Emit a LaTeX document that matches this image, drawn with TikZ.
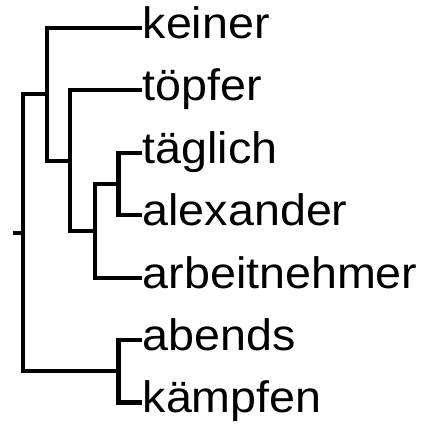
\documentclass[tikz,border=0pt]{standalone}
\usepackage{fontspec}
\setmainfont{Liberation Sans}
\usepackage{graphicx}
\usepackage{tikz}

% labels come out a touch wide
\newcommand{\leaflabel}[1]{\scalebox{1.06}[1]{#1}}

\begin{document}
\begin{tikzpicture}[x=1pt,y=1pt,yscale=-1,
  leaf/.style={anchor=west,inner sep=1pt,text height=33pt,text depth=12pt,
    font=\fontsize{44}{44}\selectfont},
  branch/.style={line width=4.2pt}]
\useasboundingbox (0,0) rectangle (425,425);

% Leaves
\node[leaf] (keiner)       at (141.5,28)    {\leaflabel{keiner}};
\node[leaf] (toepfer)      at (141.5,90.4)  {\leaflabel{töpfer}};
\node[leaf] (taeglich)     at (141.5,152.8) {\leaflabel{täglich}};
\node[leaf] (alexander)    at (141.5,215.2) {\leaflabel{alexander}};
\node[leaf] (arbeitnehmer) at (141.5,277.6) {\leaflabel{arbeitnehmer}};
\node[leaf] (abends)       at (141.5,340)   {\leaflabel{abends}};
\node[leaf] (kaempfen)     at (141.5,402.4) {\leaflabel{kämpfen}};

% Merge points
\coordinate (m1) at (118.5,184);
\coordinate (m2) at (95,230.8);
\coordinate (m3) at (70,160.6);
\coordinate (m4) at (47,94.3);
\coordinate (m5) at (118.5,371.2);
\coordinate (root) at (23,232.7);
\coordinate (stub) at (12.5,232.7);

% Branches
\draw[branch] (taeglich.west) -| (m1) |- (alexander.west);
\draw[branch] (m1) -| (m2) |- (arbeitnehmer.west);
\draw[branch] (toepfer.west) -| (m3) |- (m2);
\draw[branch] (keiner.west) -| (m4) |- (m3);
\draw[branch] (abends.west) -| (m5) |- (kaempfen.west);
\draw[branch] (m4) -| (root) |- (m5);
\draw[branch] (root) -- (stub);

\end{tikzpicture}
\end{document}
